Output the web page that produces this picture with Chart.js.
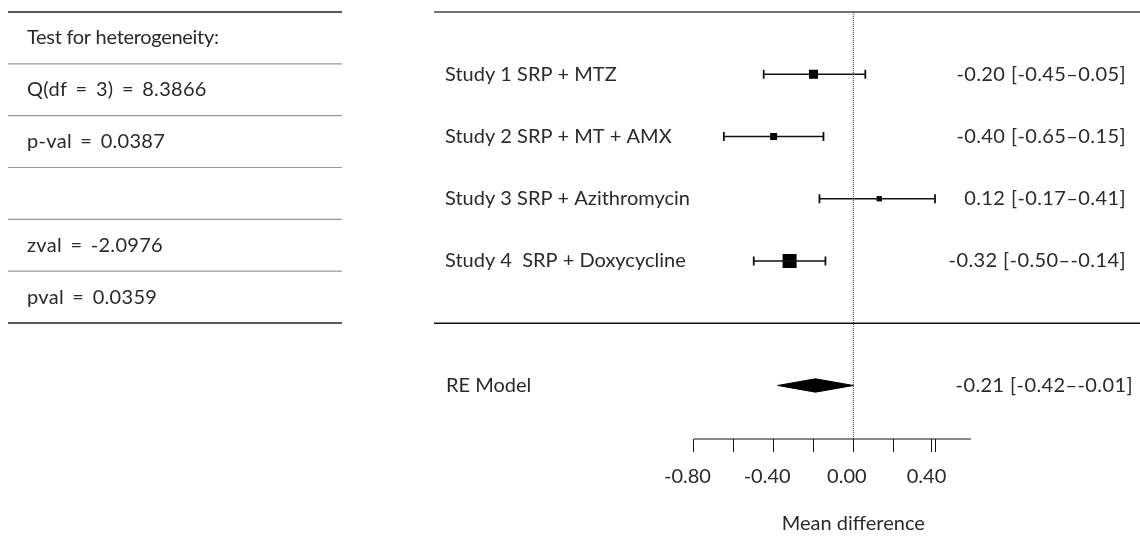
<!DOCTYPE html>
<html><head><meta charset="utf-8">
<script src="https://cdn.jsdelivr.net/npm/chart.js@4/dist/chart.umd.min.js"></script>
<style>html,body{margin:0;padding:0;background:#fff}#wrap{width:1140px;height:536px}</style>
</head><body><div id="wrap"><canvas id="c" width="1140" height="536"></canvas></div>
<script>
const studies = ['Study 1 SRP + MTZ','Study 2 SRP + MT + AMX','Study 3 SRP + Azithromycin','Study 4  SRP + Doxycycline'];
const studyRows = [1,2,3,4];
const estimates = [-0.20,-0.40,0.13,-0.32];
const ciLower = [-0.45,-0.65,-0.17,-0.50];
const ciUpper = [0.06,-0.15,0.41,-0.14];
const weights = [25.5,19.8,15.0,39.7];
const ciTexts = ['-0.20 [-0.45\u20130.05]','-0.40 [-0.65\u20130.15]','0.12 [-0.17\u20130.41]','-0.32 [-0.50\u2013-0.14]'];
const reLabel = 'RE Model';
const reRow = 6;
const reEstimate = -0.19, reLower = -0.38, reUpper = 0.00;
const reText = '-0.21 [-0.42\u2013-0.01]';
const statLines = ['Test for heterogeneity:','Q(df = 3) = 8.3866','p-val = 0.0387','','zval = -2.0976','pval = 0.0359'];
const axisTicks = [-0.8,-0.6,-0.4,-0.2,0,0.2,0.39,0.4,0.41];
const axisTickLabels = {'-0.8':'-0.80','-0.4':'-0.40','0':'0.00','0.4':'0.40'};
const axisEnd = 0.59;
const xTitle = 'Mean difference';

const FONT = 'Lato';
const FS = 20;
const TXT = '#2a2a2a';
const Y_MAX = 6.86;
const DIA_H = 0.107;

const datasets = [];
datasets.push({data:[{x:0,y:0},{x:0,y:Y_MAX}],showLine:true,borderColor:'#333',borderWidth:1,borderDash:[1,1],pointRadius:0,clip:false});
datasets.push({data:[{x:-2.105,y:0},{x:1.439,y:0}],showLine:true,borderColor:'#444',borderWidth:1.5,pointRadius:0,clip:false});
datasets.push({data:[{x:-2.105,y:5},{x:1.439,y:5}],showLine:true,borderColor:'#111',borderWidth:1.6,pointRadius:0,clip:false});
datasets.push({data:[{x:-0.8,y:Y_MAX},{x:axisEnd,y:Y_MAX}],showLine:true,borderColor:'#111',borderWidth:1,pointRadius:0,clip:false});
studies.forEach((s,i)=>{
  datasets.push({data:[{x:ciLower[i],y:studyRows[i]},{x:ciUpper[i],y:studyRows[i]}],showLine:true,borderColor:'#111',borderWidth:1.3,
    pointStyle:'line',rotation:90,pointRadius:4.5,pointBorderWidth:1.8,pointBorderColor:'#111',clip:false});
});
datasets.push({data:estimates.map((v,i)=>({x:v,y:studyRows[i]})),pointStyle:'rect',
  pointRadius:weights.map(w=>w*0.353/1.4142),pointBackgroundColor:'#000',pointBorderColor:'#000',pointBorderWidth:0,clip:false});
datasets.push({data:[{x:reLower,y:reRow},{x:reEstimate,y:reRow-DIA_H},{x:reUpper,y:reRow},{x:reEstimate,y:reRow+DIA_H},{x:reLower,y:reRow}],
  showLine:true,fill:'shape',backgroundColor:'#000',borderColor:'#000',borderWidth:1,pointRadius:0,tension:0,clip:false});

const textPlugin = {
  id:'texts',
  beforeDraw(chart){ chart.ctx.letterSpacing = '0px'; chart.ctx.wordSpacing = '0px'; },
  afterDraw(chart){
    const ctx = chart.ctx, xs = chart.scales.x, ys = chart.scales.y;
    ctx.save();
    const top = 12, step = 311/6;
    for(let i=0;i<=statLines.length;i++){
      const y = top + i*step;
      ctx.beginPath();
      ctx.strokeStyle = (i===0||i===statLines.length)?'#222':'#999';
      ctx.lineWidth = (i===0||i===statLines.length)?1.6:1.2;
      ctx.moveTo(8,y);ctx.lineTo(342,y);ctx.stroke();
    }
    ctx.fillStyle = TXT; ctx.font = FS+'px '+FONT; ctx.textBaseline='middle'; ctx.textAlign='left';
    statLines.forEach((t,i)=>{
      if(!t) return;
      if(i===0){ ctx.letterSpacing='-0.3px'; ctx.wordSpacing='0px'; }
      else { ctx.letterSpacing='0.3px'; ctx.wordSpacing='3px'; }
      ctx.fillText(t,27,top+(i+0.5)*step);
    });
    ctx.letterSpacing = '0px'; ctx.wordSpacing='0px';
    studies.forEach((s,i)=>{ ctx.fillText(s,445,ys.getPixelForValue(studyRows[i])); });
    ctx.fillText(reLabel,446,ys.getPixelForValue(reRow));
    ctx.textAlign='right';
    ctx.letterSpacing = '0.4px';
    ciTexts.forEach((t,i)=>{ ctx.fillText(t,1126,ys.getPixelForValue(studyRows[i])); });
    ctx.fillText(reText,1133,ys.getPixelForValue(reRow));
    ctx.letterSpacing = '0px';
    ctx.textAlign='center';
    ctx.fillText(xTitle,xs.getPixelForValue(0),524);
    ctx.restore();
  }
};

new Chart(document.getElementById('c'),{
  type:'scatter',
  data:{datasets},
  options:{
    responsive:false,animation:false,
    layout:{autoPadding:false,padding:{left:434,right:0,top:12,bottom:0}},
    plugins:{legend:{display:false},tooltip:{enabled:false}},
    scales:{
      x:{type:'linear',min:-2.105,max:1.439,
        afterBuildTicks:(sc)=>{sc.ticks = axisTicks.map(v=>({value:v}));},
        afterFit:(sc)=>{sc.height=97; sc.paddingLeft=0; sc.paddingRight=0;},
        border:{display:false},
        grid:{drawOnChartArea:false,drawTicks:true,tickLength:13,lineWidth:1,
          color:(c)=>(c.tick && c.tick.value===0.4)?'rgba(0,0,0,0)':'#111'},
        ticks:{autoSkip:false,maxRotation:0,padding:13,labelOffset:-6.5,color:TXT,font:{family:FONT,size:FS},
          callback:(v)=>axisTickLabels[String(Math.round(v*100)/100)]||''}
      },
      y:{type:'linear',display:false,reverse:true,min:0,max:Y_MAX}
    }
  },
  plugins:[textPlugin]
});
</script></body></html>
